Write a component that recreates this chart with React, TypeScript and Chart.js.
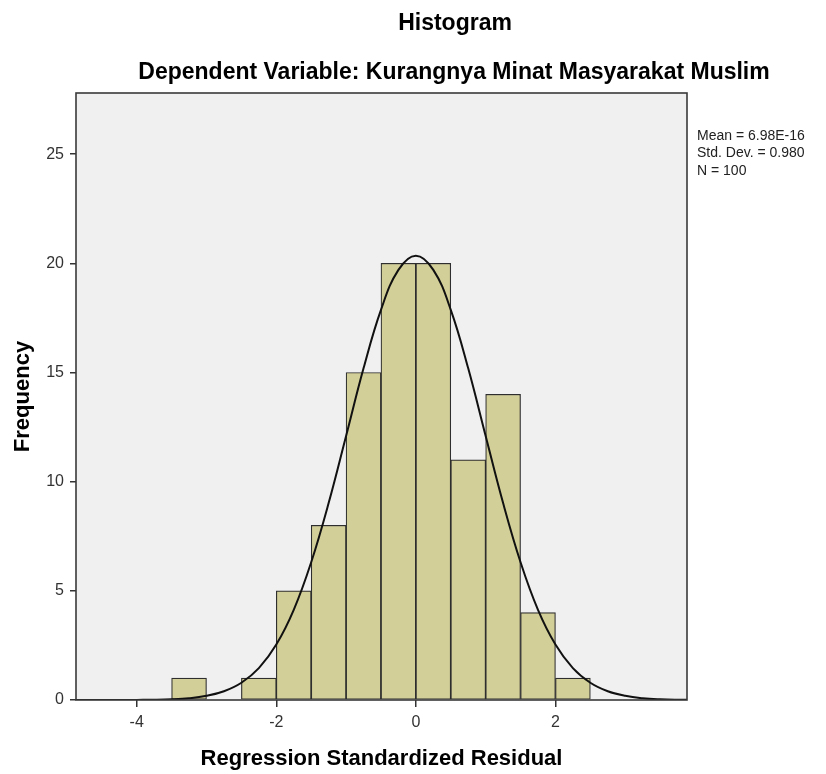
import React, { useEffect, useRef } from "react";
import { Chart, registerables } from "chart.js";

Chart.register(...registerables);

// Histogram bins (centres, width 0.5) and frequencies
const binCenters = [-3.25, -2.75, -2.25, -1.75, -1.25, -0.75, -0.25, 0.25, 0.75, 1.25, 1.75, 2.25];
const frequencies = [1, 0, 1, 5, 8, 15, 20, 20, 11, 14, 4, 1];

// Normal curve
const curveX = [-5, -4.75, -4.5, -4.25, -4, -3.75, -3.5, -3.25, -3, -2.75, -2.5, -2.25, -2, -1.75, -1.5, -1.25, -1, -0.75, -0.5, -0.25, 0, 0.25, 0.5, 0.75, 1, 1.25, 1.5, 1.75, 2, 2.25, 2.5, 2.75, 3, 3.25, 3.5, 3.75, 4];
const curveY = [0, 0, 0, 0, 0.005, 0.01, 0.03, 0.08, 0.19, 0.4, 0.79, 1.46, 2.54, 4.13, 6.31, 9.02, 12.09, 15.19, 17.87, 19.7, 20.35, 19.7, 17.87, 15.19, 12.09, 9.02, 6.31, 4.13, 2.54, 1.46, 0.79, 0.4, 0.19, 0.08, 0.03, 0.01, 0.005];

const xTicks = [-4, -2, 0, 2];
const yTicks = [0, 5, 10, 15, 20, 25];

const titleText = "Histogram";
const subtitleText = "Dependent Variable: Kurangnya Minat Masyarakat Muslim";
const statsLines = ["Mean = 6.98E-16", "Std. Dev. = 0.980", "N = 100"];
const xTitle = "Regression Standardized Residual";
const yTitle = "Frequency";

export default function App() {
  const ref = useRef<HTMLCanvasElement | null>(null);

  useEffect(() => {
    document.body.style.margin = "0";
    const canvas = ref.current;
    if (!canvas) return;

    const framePlugin = {
      id: "frame",
      beforeDraw(chart: any) {
        const { ctx, chartArea: a } = chart;
        ctx.save();
        ctx.fillStyle = "#f0f0f0";
        ctx.fillRect(a.left, a.top, a.right - a.left, a.bottom - a.top);
        ctx.restore();
      },
      afterDraw(chart: any) {
        const { ctx, chartArea: a } = chart;
        ctx.save();
        ctx.strokeStyle = "#3a3a3a";
        ctx.lineWidth = 1.6;
        ctx.strokeRect(a.left, a.top, a.right - a.left, a.bottom - a.top);
        ctx.fillStyle = "#000";
        ctx.textAlign = "center";
        ctx.textBaseline = "middle";
        ctx.font = 'bold 23px "Liberation Sans", Arial, sans-serif';
        ctx.fillText(titleText, 455, 24);
        ctx.fillText(subtitleText, 454, 73);
        ctx.textAlign = "left";
        ctx.fillStyle = "#222";
        ctx.font = '14px "Liberation Sans", Arial, sans-serif';
        statsLines.forEach((s, i) => ctx.fillText(s, 697, 136 + i * 17.5));
        ctx.restore();
      },
    };

    const chart = new Chart(canvas, {
      type: "bar",
      data: {
        datasets: [
          {
            type: "line",
            data: curveX.map((x, i) => ({ x, y: curveY[i] })),
            borderColor: "#111",
            borderWidth: 2,
            pointRadius: 0,
            tension: 0.4,
            fill: false,
            order: 0,
          } as any,
          {
            type: "bar",
            data: binCenters.map((x, i) => ({ x, y: frequencies[i] })),
            backgroundColor: "#d3cf98",
            borderColor: "#2e2e2e",
            borderWidth: 1.2,
            borderSkipped: false,
            categoryPercentage: 1,
            barPercentage: 1,
            order: 1,
          } as any,
        ],
      },
      options: {
        responsive: false,
        animation: false,
        devicePixelRatio: 1,
        layout: { padding: { top: 93, right: 139, bottom: 0, left: 0 } },
        plugins: {
          legend: { display: false },
          tooltip: { enabled: false },
        },
        scales: {
          x: {
            type: "linear",
            min: -4.87,
            max: 3.885,
            offset: false,
            afterBuildTicks: (s: any) => {
              s.ticks = xTicks.map((v) => ({ value: v }));
            },
            afterFit: (s: any) => {
              s.height = 74;
            },
            grid: { display: true, offset: false, drawOnChartArea: false, drawTicks: true, tickLength: 7, color: "#333", lineWidth: 1.5 },
            border: { display: false },
            ticks: {
              padding: 6,
              color: "#333",
              font: { family: '"Liberation Sans", Arial, sans-serif', size: 16 },
              maxRotation: 0,
              callback: (v: any) => String(v),
            },
            title: {
              display: true,
              text: xTitle,
              color: "#000",
              font: { family: '"Liberation Sans", Arial, sans-serif', size: 22, weight: "bold" },
              padding: { top: 0, bottom: 2 },
            },
          },
          y: {
            type: "linear",
            min: 0,
            max: 27.8,
            afterBuildTicks: (s: any) => {
              s.ticks = yTicks.map((v) => ({ value: v }));
            },
            afterFit: (s: any) => {
              s.width = 76;
            },
            grid: { display: true, offset: false, drawOnChartArea: false, drawTicks: true, tickLength: 6, color: "#333", lineWidth: 1.5 },
            border: { display: false },
            ticks: {
              padding: 6,
              color: "#333",
              font: { family: '"Liberation Sans", Arial, sans-serif', size: 16 },
              callback: (v: any) => String(v),
            },
            title: {
              display: true,
              text: yTitle,
              color: "#000",
              font: { family: '"Liberation Sans", Arial, sans-serif', size: 22, weight: "bold" },
              padding: { top: 10, bottom: 0 },
            },
          },
        },
      },
      plugins: [framePlugin],
    });

    return () => chart.destroy();
  }, []);

  return <canvas ref={ref} width={826} height={774} style={{ display: "block", width: 826, height: 774 }} />;
}
